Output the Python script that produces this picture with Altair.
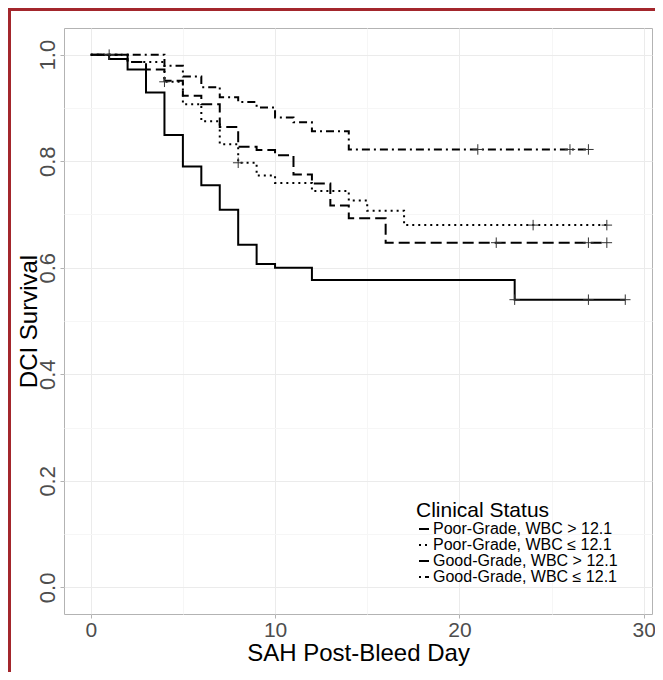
import altair as alt
import pandas as pd

# ---- data ----
groups = [
    "Poor-Grade, WBC > 12.1",
    "Poor-Grade, WBC ≤ 12.1",
    "Good-Grade, WBC > 12.1",
    "Good-Grade, WBC ≤ 12.1",
]

poor_hi_days = [0, 1, 2, 3, 4, 5, 6, 7, 8, 9, 10, 12, 23]
poor_hi_surv = [1.0, 0.992, 0.972, 0.929, 0.849, 0.790, 0.755, 0.709, 0.643, 0.607, 0.600, 0.577, 0.540]
poor_hi_end = 29
poor_hi_cens = [23, 27, 29]

poor_lo_days = [0, 2, 4, 5, 6, 7, 8, 9, 10, 12, 14, 15, 17]
poor_lo_surv = [1.0, 0.986, 0.949, 0.907, 0.875, 0.832, 0.797, 0.773, 0.759, 0.744, 0.726, 0.707, 0.680]
poor_lo_end = 28
poor_lo_cens = [4, 8, 24, 28]

good_hi_days = [0, 2, 3, 4, 5, 6, 7, 8, 9, 10, 11, 12, 13, 14, 16]
good_hi_surv = [1.0, 0.986, 0.972, 0.951, 0.923, 0.907, 0.864, 0.827, 0.821, 0.811, 0.775, 0.758, 0.717, 0.693, 0.647]
good_hi_end = 28
good_hi_cens = [22, 27, 28]

good_lo_days = [0, 4, 5, 6, 7, 8, 9, 10, 11, 12, 14]
good_lo_surv = [1.0, 0.979, 0.959, 0.939, 0.920, 0.911, 0.901, 0.882, 0.873, 0.856, 0.822]
good_lo_end = 27
good_lo_cens = [1, 21, 26, 27]

series = [
    (poor_hi_days, poor_hi_surv, poor_hi_end, poor_hi_cens),
    (poor_lo_days, poor_lo_surv, poor_lo_end, poor_lo_cens),
    (good_hi_days, good_hi_surv, good_hi_end, good_hi_cens),
    (good_lo_days, good_lo_surv, good_lo_end, good_lo_cens),
]

line_rows, cens_rows = [], []
for g, (d, s, end, cens) in zip(groups, series):
    for di, si in zip(d, s):
        line_rows.append({"group": g, "day": di, "surv": si})
    line_rows.append({"group": g, "day": end, "surv": s[-1]})
    for c in cens:
        val = [si for di, si in zip(d, s) if di <= c][-1]
        cens_rows.append({"group": g, "day": c, "surv": val})

lines_df = pd.DataFrame(line_rows)
cens_df = pd.DataFrame(cens_rows)

dash_range = [[1, 0], [2, 4], [11, 5], [2, 4, 8, 4]]

major_grid = "#EBEBEB"
minor_grid = "#F6F6F6"

x_enc = alt.X(
    "day:Q",
    scale=alt.Scale(domain=[-1.45, 30.45], nice=False, zero=False),
    axis=alt.Axis(
        values=[0, 5, 10, 15, 20, 25, 30],
        labelExpr="datum.value % 10 === 0 ? datum.label : ''",
        gridColor={"condition": {"test": "datum.value % 10 === 0", "value": major_grid}, "value": minor_grid},
        tickOpacity={"condition": {"test": "datum.value % 10 === 0", "value": 1}, "value": 0},
        title="SAH Post-Bleed Day",
        titleFontSize=24,
        titleFontWeight="normal",
        titleColor="black",
        titlePadding=1,
        labelFontSize=21,
        labelColor="#4D4D4D",
        labelPadding=1,
        tickColor="#B3B3B3",
        tickSize=4,
        domain=False,
    ),
)

y_enc = alt.Y(
    "surv:Q",
    scale=alt.Scale(domain=[-0.05, 1.05], nice=False, zero=False),
    axis=alt.Axis(
        values=[0, 0.1, 0.2, 0.3, 0.4, 0.5, 0.6, 0.7, 0.8, 0.9, 1.0],
        labelExpr="round(datum.value * 10) % 2 === 0 ? format(datum.value, '.1f') : ''",
        gridColor={"condition": {"test": "round(datum.value * 10) % 2 === 0", "value": major_grid}, "value": minor_grid},
        tickOpacity={"condition": {"test": "round(datum.value * 10) % 2 === 0", "value": 1}, "value": 0},
        labelAngle=270,
        labelAlign="center",
        labelBaseline="bottom",
        title="DCI Survival",
        titleFontSize=24,
        titleFontWeight="normal",
        titleColor="black",
        titleX=-23,
        titleY=293,
        titleAlign="center",
        titleBaseline="bottom",
        titleAngle=270,
        labelFontSize=22,
        labelColor="#4D4D4D",
        labelPadding=1,
        tickColor="#B3B3B3",
        tickSize=4,
        domain=False,
    ),
)

lines = alt.Chart(lines_df).mark_line(
    interpolate="step-after", color="black", strokeWidth=2
).encode(
    x=x_enc,
    y=y_enc,
    strokeDash=alt.StrokeDash(
        "group:N",
        scale=alt.Scale(domain=groups, range=dash_range),
        sort=groups,
        legend=alt.Legend(
            title="Clinical Status",
            orient="none",
            legendX=352,
            legendY=472,
            titleFontSize=21,
            titleFontWeight="normal",
            titleColor="black",
            titlePadding=0,
            labelFontSize=16,
            labelLimit=0,
            labelColor="black",
            labelOffset=1,
            symbolType="stroke",
            symbolSize=100,
            symbolStrokeWidth=2,
            symbolStrokeColor="black",
            rowPadding=0,
            padding=0,
        ),
    ),
    order="day:Q",
)

censors = alt.Chart(cens_df).mark_point(
    shape="M-1,0L1,0M0,-1L0,1",
    size=110,
    filled=False,
    color="#333333",
    strokeWidth=1,
    opacity=1,
).encode(x="day:Q", y="surv:Q")

frame_left = alt.Chart(lines_df).mark_rule(color="#A3262C", strokeWidth=3).encode(
    x=alt.value(-54.5), y=alt.value(-18.5), y2=alt.value(700)
)
frame_top = alt.Chart(lines_df).mark_rule(color="#A3262C", strokeWidth=3).encode(
    x=alt.value(-56), x2=alt.value(700), y=alt.value(-18.5)
)

chart = alt.layer(lines, censors, frame_left, frame_top).properties(
    width=588,
    height=586,
    autosize=alt.AutoSizeParams(type="none"),
    padding={"left": 56, "top": 20, "right": 3, "bottom": 58},
).configure(
    font="Liberation Sans",
    background="white",
).configure_view(
    stroke="#B3B3B3", strokeWidth=1
)

chart.save("out.html", embed_options={"renderer": "svg", "actions": False})
